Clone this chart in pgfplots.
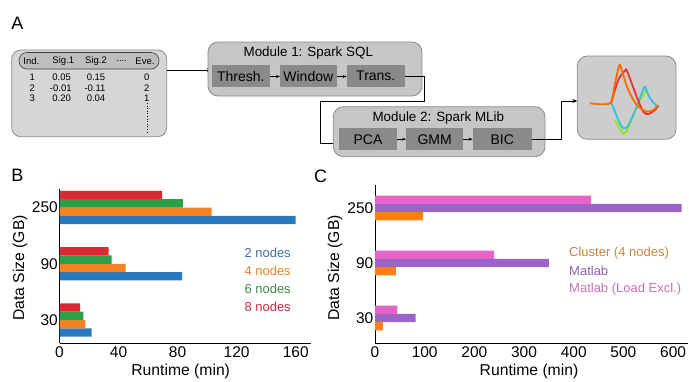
\documentclass[border=0pt]{standalone}
\usepackage{fontspec}
\setmainfont{Liberation Sans}
\usepackage{pgfplots}
\pgfplotsset{compat=1.18}
\usetikzlibrary{arrows.meta}
\definecolor{cblue}{HTML}{2878BE}
\definecolor{corange}{HTML}{F58220}
\definecolor{cgreen}{HTML}{2CA048}
\definecolor{cred}{HTML}{DC2832}
\definecolor{cpink}{HTML}{E664C8}
\definecolor{cpurple}{HTML}{9A64C8}
\definecolor{corangeb}{HTML}{FF7F10}
\definecolor{lblue}{HTML}{3C6E9E}
\definecolor{lorange}{HTML}{E8832A}
\definecolor{lgreen}{HTML}{3A8A4C}
\definecolor{lred}{HTML}{C8283C}
\definecolor{lclus}{HTML}{C8843C}
\definecolor{lmat}{HTML}{8464B4}
\definecolor{lmatl}{HTML}{C474B4}
\definecolor{tblfill}{HTML}{D6D6D6}
\definecolor{hdrfill}{HTML}{BEBEBE}
\definecolor{boxdraw}{HTML}{8C8C8C}
\definecolor{modfill}{HTML}{C6C6C6}
\definecolor{innerfill}{HTML}{8A8A8A}
\definecolor{wfbox}{HTML}{CDCDCD}
\definecolor{wforange}{HTML}{FF6A00}
\definecolor{wfred}{HTML}{F03030}
\definecolor{wfcyan}{HTML}{30C4DC}
\definecolor{wfgreen}{HTML}{98E020}
\newcommand{\fs}[1]{\fontsize{#1}{#1}\selectfont}
\begin{document}
\begin{tikzpicture}
\useasboundingbox (0,0) rectangle (689pt,-381pt);
\begin{scope}[x=1pt,y=-1pt]
 % panel letters
 \node[font=\fs{18}] at (17.5,23.5) {A};
 \node[font=\fs{18}] at (17.5,175) {B};
 \node[font=\fs{18}] at (320.5,176) {C};
 % table box
 \draw[fill=tblfill, draw=boxdraw, line width=0.8pt, rounded corners=9pt] (11.7,50) rectangle (166.7,136.7);
 \draw[fill=hdrfill, draw=black!75, line width=0.6pt, rounded corners=8pt] (19,52.5) rectangle (159,69);
 \begin{scope}[every node/.style={font=\fs{9.5}, inner sep=0pt}]
  \node at (31.3,61.3) {Ind.};
  \node at (63.3,61.3) {Sig.1};
  \node at (96,61.3) {Sig.2};
  \node at (121.7,61.3) {....};
  \node at (145,61.3) {Eve.};
  \node at (32.3,77.5) {1}; \node at (61.7,77.5) {0.05}; \node at (96,77.5) {0.15}; \node at (146.7,77.5) {0};
  \node at (32.3,87.8) {2}; \node at (60.8,87.8) {-0.01}; \node at (95,87.8) {-0.11}; \node at (146.7,87.8) {2};
  \node at (32.3,98) {3}; \node at (61.7,98) {0.20}; \node at (96,98) {0.04}; \node at (146.7,98) {1};
 \end{scope}
 \draw[dotted, line width=0.6pt] (147,103) -- (147,133);
 % arrow to module 1
 \draw[-{Stealth[length=5pt,width=4pt]}, line width=0.7pt] (166.7,70) -- (211.7,70);
 % module 1
 \draw[fill=modfill, draw=boxdraw, line width=0.8pt, rounded corners=10pt] (208,42) rectangle (422,96);
 \node[font=\fs{13.4}] at (308.3,53.3) {Module 1: Spark SQL};
 \begin{scope}[every node/.style={font=\fs{14}, inner sep=0pt}]
  \fill[innerfill] (211.7,65) rectangle (270,86.7); \node at (240.8,76) {Thresh.};
  \fill[innerfill] (280,65) rectangle (336.7,86.7); \node at (308.3,76) {Window};
  \fill[innerfill] (346.7,65) rectangle (405,86.7); \node at (375.8,76) {Trans.};
 \end{scope}
 \draw[-{Stealth[length=4pt,width=3pt]}, line width=0.6pt] (270,76.5) -- (280,76.5);
 \draw[-{Stealth[length=4pt,width=3pt]}, line width=0.6pt] (336.7,76.5) -- (346.7,76.5);
 % connector
 \draw[-{Stealth[length=5pt,width=4pt]}, line width=0.7pt] (405,76.7) -- (424,76.7) -- (424,101.7) -- (320.7,101.7) -- (320.7,143.3) -- (339.3,143.3);
 % module 2
 \draw[fill=modfill, draw=boxdraw, line width=0.8pt, rounded corners=10pt] (333.3,106.7) rectangle (545,156.7);
 \node[font=\fs{13.4}] at (438.3,117.7) {Module 2: Spark MLib};
 \begin{scope}[every node/.style={font=\fs{14}, inner sep=0pt}]
  \fill[innerfill] (339.3,128.3) rectangle (396.7,150); \node at (368,139.2) {PCA};
  \fill[innerfill] (406,128.3) rectangle (463.3,150); \node at (434.7,139.2) {GMM};
  \fill[innerfill] (472.7,128.3) rectangle (531.7,150); \node at (502.2,139.2) {BIC};
 \end{scope}
 \draw[-{Stealth[length=4pt,width=3pt]}, line width=0.6pt] (396.7,139.2) -- (406,139.2);
 \draw[-{Stealth[length=4pt,width=3pt]}, line width=0.6pt] (463.3,139.2) -- (472.7,139.2);
 \draw[-{Stealth[length=5pt,width=4pt]}, line width=0.8pt] (531.7,139.5) -- (561.7,139.5) -- (561.7,101) -- (577.3,101);
 % waveform box
 \draw[fill=wfbox, draw=boxdraw, line width=0.8pt, rounded corners=10pt] (577.3,56) rectangle (676,139.3);
 % B legend
 \begin{scope}[every node/.style={font=\fs{13}, anchor=west, inner sep=0pt}]
  \node[text=lblue] at (244.3,252.7) {2 nodes};
  \node[text=lorange] at (244.3,270.5) {4 nodes};
  \node[text=lgreen] at (244.3,288.5) {6 nodes};
  \node[text=lred] at (244.3,306.7) {8 nodes};
  \node[text=lclus] at (569,252.7) {Cluster (4 nodes)};
  \node[text=lmat] at (569,271.2) {Matlab};
  \node[text=lmatl] at (569,289.3) {Matlab (Load Excl.)};
 \end{scope}
 % axis labels
 \node[font=\fs{15.7}] at (180.7,371.7) {Runtime (min)};
 \node[font=\fs{15.7}] at (529,371.7) {Runtime (min)};
 \node[font=\fs{15.7}, rotate=90] at (20,268) {Data Size (GB)};
 \node[font=\fs{15.7}, rotate=90] at (335,268) {Data Size (GB)};
\end{scope}

% waveforms
\begin{axis}[at={(585pt,-140pt)}, anchor=south west, scale only axis, width=80pt, height=85pt,
  xmin=585, xmax=665, ymin=55, ymax=140, y dir=reverse, hide axis, clip=false]
\addplot[wfgreen, line width=1.8pt, smooth, tension=0.5] coordinates {(615,120) (621.7,131.7) (625,133.3) (631.7,120) (638.3,103.3) (643.3,95) (646,90)};
\addplot[wfcyan, line width=1.8pt, smooth, tension=0.5] coordinates {(611.7,103.3) (618.3,120) (623.3,128.3) (628.3,125) (636.7,106.7) (641.7,93.3) (645,86.7) (648.3,95) (653.3,102.7) (658.3,106.7)};
\addplot[wfred, line width=1.8pt, smooth, tension=0.5] coordinates {(611,103.3) (618.3,80) (625,70.7) (627.3,71.7) (636.7,96.7) (643.3,111.7) (648.3,114) (655,110) (658.3,105.7)};
\addplot[wforange, line width=1.8pt, smooth, tension=0.4] coordinates {(590,103.3) (610,103.3) (615,83.3) (619.3,65) (621.7,70) (628.3,90) (636.7,105) (646.7,111.7) (653.3,110) (658.3,105)};
\end{axis}

% panel B
\begin{axis}[at={(59.5pt,-343pt)}, anchor=south west, scale only axis, width=251pt, height=154pt,
  xmin=0, xmax=170, ymin=-0.409, ymax=2.33,
  axis x line*=bottom, axis y line*=left, axis line style={-, line width=0.8pt, black},
  xtick={0,40,80,120,160}, ytick={0,1,2}, yticklabels={30,90,250},
  major tick length=0pt, tick label style={font=\fs{15.5}}, yticklabel style={inner xsep=1.5pt},
  /pgf/number format/assume math mode=true,
  xbar, bar width=0.148]
\addplot[fill=cblue, draw=none, bar shift=-0.222] coordinates {(21.8,0) (83,1) (160,2)};
\addplot[fill=corange, draw=none, bar shift=-0.074] coordinates {(17.5,0) (44.8,1) (103,2)};
\addplot[fill=cgreen, draw=none, bar shift=0.074] coordinates {(16.1,0) (35.3,1) (83.5,2)};
\addplot[fill=cred, draw=none, bar shift=0.222] coordinates {(13.9,0) (33.3,1) (69.5,2)};
\end{axis}

% panel C
\begin{axis}[at={(375pt,-343pt)}, anchor=south west, scale only axis, width=313pt, height=158pt,
  xmin=0, xmax=630, ymin=-0.455, ymax=2.418,
  axis x line*=bottom, axis y line*=left, axis line style={-, line width=0.8pt, black},
  xtick={0,100,200,300,400,500,600}, ytick={0,1,2}, yticklabels={30,90,250},
  major tick length=0pt, tick label style={font=\fs{15.5}}, yticklabel style={inner xsep=1.5pt},
  /pgf/number format/assume math mode=true,
  xbar, bar width=0.151]
\addplot[fill=corangeb, draw=none, bar shift=-0.151] coordinates {(16,0) (42,1) (97,2)};
\addplot[fill=cpurple, draw=none, bar shift=0] coordinates {(82,0) (350,1) (617,2)};
\addplot[fill=cpink, draw=none, bar shift=0.151] coordinates {(45,0) (240,1) (435,2)};
\end{axis}
\end{tikzpicture}
\end{document}
